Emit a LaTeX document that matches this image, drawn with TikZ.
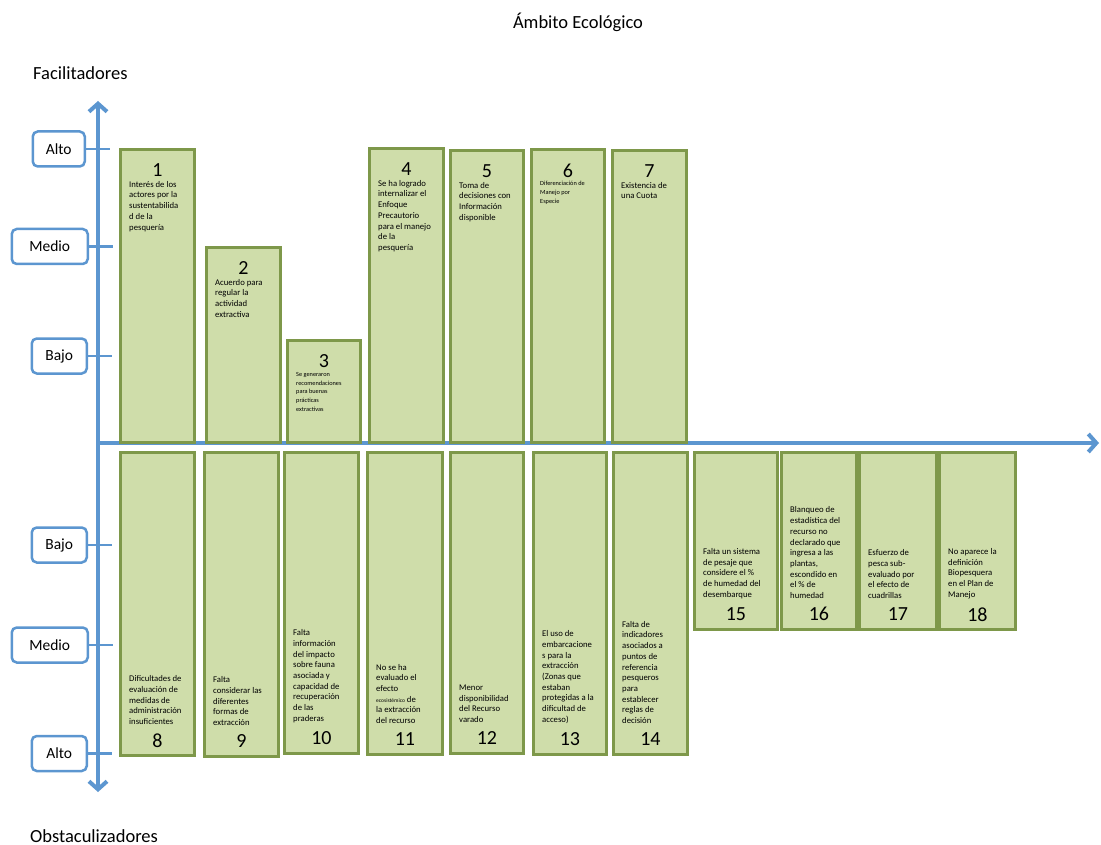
\documentclass[tikz,border=0pt]{standalone}
\usepackage{fontspec}
\setmainfont{Carlito}
\usetikzlibrary{arrows.meta}
\definecolor{axisblue}{RGB}{92,150,208}
\definecolor{barfill}{RGB}{207,221,170}
\definecolor{bardraw}{RGB}{126,152,74}

\begin{document}
\begin{tikzpicture}[x=1pt, y=-1pt,
  bar/.style={draw=bardraw, fill=barfill, line width=2.8pt, anchor=north west, inner sep=0pt},
  num/.style={font=\fontsize{20}{20}\selectfont, inner sep=0pt},
  txt/.style={font=\fontsize{8.7}{10.7}\selectfont, align=left, inner sep=0pt},
  small/.style={font=\fontsize{6.3}{8.8}\selectfont, align=left, inner sep=0pt},
  level/.style={draw=axisblue, line width=2.5pt, rounded corners=5pt, fill=white, minimum height=35pt,
    font=\fontsize{15.5}{16}\selectfont, anchor=east},
  axis/.style={draw=axisblue, line width=4pt},
  tick/.style={draw=axisblue, line width=2.5pt},
  title/.style={font=\fontsize{18.5}{20}\selectfont, inner sep=0pt}]
\useasboundingbox (0,0) rectangle (1101,845);

% titles
\node[title] (ttl) at (578,22) {Ámbito Ecológico};
\node[title, anchor=west] (fac) at (33,73) {Facilitadores};
\node[title, anchor=north west] (obs) at (30,829) {Obstaculizadores};

% axes
\coordinate (ytop) at (98,101);
\coordinate (ybot) at (98,792);
\coordinate (orig) at (98,443);
\coordinate (xend) at (1099,443);
\draw[axis, {Straight Barb[length=8pt,width=18pt]}-{Straight Barb[length=8pt,width=18pt]}] (ybot) -- (ytop);
\draw[axis, -{Straight Barb[length=8pt,width=18pt]}] (orig) -- (xend);

% level boxes
\node[level, minimum width=52pt] (up3) at (86,149) {Alto};
\node[level, minimum width=76pt] (up2) at (89,246.5) {Medio};
\node[level, minimum width=55pt] (up1) at (88,356) {Bajo};
\node[level, minimum width=55pt] (lo1) at (88,545) {Bajo};
\node[level, minimum width=76pt] (lo2) at (89,645) {Medio};
\node[level, minimum width=55pt] (lo3) at (88,753.5) {Alto};
\foreach \l in {up1,up2,up3,lo1,lo2,lo3}
  \draw[tick] (\l.east) -- ++(24,0);

% facilitadores
\foreach \i/\xa/\ya/\w/\st/\tx in {
  1/119/148/74/txt/{Interés de los\\actores por la\\sustentabilida\\d de la\\pesquería},
  2/205/246/74/txt/{Acuerdo para\\regular la\\actividad\\extractiva},
  3/286/339/73/small/{Se generaron\\recomendaciones\\para buenas\\prácticas\\extractivas},
  4/368/147/74/txt/{Se ha logrado\\internalizar el\\Enfoque\\Precautorio\\para el manejo\\de la\\pesquería},
  5/449/149/73/txt/{Toma de\\decisiones con\\Información\\disponible},
  6/530/148/73/small/{Diferenciación de\\Manejo por\\Especie},
  7/611/149/74/txt/{Existencia de\\una Cuota}}
{
  \node[bar, minimum width=\w pt, minimum height={(441-\ya)*1pt}] (b\i) at (\xa,\ya) {};
  \node[num] (n\i) at ([yshift=-22.5pt]b\i.north) {\i};
  \node[\st, anchor=north west] (t\i) at ([xshift=10pt,yshift=-33pt]b\i.north west) {\tx};
}

% obstaculizadores
\foreach \i/\xa/\yb/\w/\tx in {
  8/119/754/74/{Dificultades de\\evaluación de\\medidas de\\administración\\insuficientes},
  9/203/755/74/{Falta\\considerar las\\diferentes\\formas de\\extracción},
  10/283/752/74/{Falta\\información\\del impacto\\sobre fauna\\asociada y\\capacidad de\\recuperación\\de las\\praderas},
  11/366/753/75/{No se ha\\evaluado el\\efecto\\{\fontsize{5.5}{7}\selectfont ecosistémico} de\\la extracción\\del recurso},
  12/449/752/73/{Menor\\disponibilidad\\del Recurso\\varado},
  13/532/753/73/{El uso de\\embarcacione\\s para la\\extracción\\(Zonas que\\estaban\\protegidas a la\\dificultad de\\acceso)},
  14/612/753/74/{Falta de\\indicadores\\asociados a\\puntos de\\referencia\\pesqueros\\para\\establecer\\reglas de\\decisión},
  15/693/628/83/{Falta un sistema\\de pesaje que\\considere el \%\\de humedad del\\desembarque},
  16/780/628/75/{Blanqueo de\\estadística del\\recurso no\\declarado que\\ingresa a las\\plantas,\\escondido en\\el \% de\\humedad},
  17/858/628/77/{Esfuerzo de\\pesca sub-\\evaluado por\\el efecto de\\cuadrillas},
  18/938/628/76/{No aparece la\\definición\\Biopesquera\\en el Plan de\\Manejo}}
{
  \node[bar, minimum width=\w pt, minimum height={(\yb-451)*1pt}] (b\i) at (\xa,451) {};
  \node[num] (n\i) at ([yshift=16.5pt]b\i.south) {\i};
  \node[txt, anchor=south west] (t\i) at ([xshift=10pt,yshift=32pt]b\i.south west) {\tx};
}
\end{tikzpicture}
\end{document}
